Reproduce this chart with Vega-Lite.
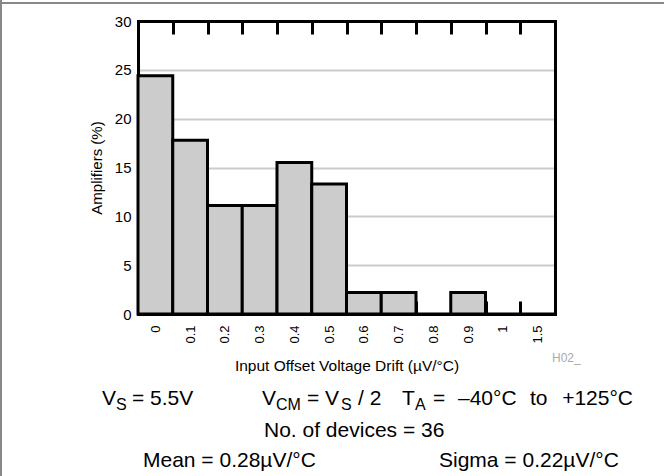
{
  "$schema": "https://vega.github.io/schema/vega-lite/v6.json",
  "width": 417,
  "height": 293,
  "autosize": {"type": "none"},
  "padding": {"left": 138, "top": 21, "right": 109, "bottom": 162},
  "background": "white",
  "config": {
    "font": "Liberation Sans",
    "view": {"stroke": null},
    "axis": {"labelFont": "Liberation Sans", "titleFont": "Liberation Sans", "labelColor": "black", "titleColor": "black", "titleFontWeight": "normal", "domainColor": "black", "domainWidth": 3, "domainCap": "square"},
    "text": {"font": "Liberation Sans", "color": "black"}
  },
  "resolve": {"axis": {"y": "independent"}},
  "data": {
    "values": [
      {"drift": "0", "pct": 24.4},
      {"drift": "0.1", "pct": 17.8},
      {"drift": "0.2", "pct": 11.1},
      {"drift": "0.3", "pct": 11.1},
      {"drift": "0.4", "pct": 15.5},
      {"drift": "0.5", "pct": 13.3},
      {"drift": "0.6", "pct": 2.2},
      {"drift": "0.7", "pct": 2.2},
      {"drift": "0.8", "pct": 0},
      {"drift": "0.9", "pct": 2.2},
      {"drift": "1", "pct": 0},
      {"drift": "1.5", "pct": 0}
    ]
  },
  "layer": [
    {
      "mark": {"type": "bar", "fill": "#cccccc", "stroke": "black", "strokeWidth": 3},
      "encoding": {
        "x": {
          "field": "drift", "type": "nominal", "sort": null,
          "scale": {"paddingInner": 0, "paddingOuter": 0},
          "axis": {"orient": "bottom", "title": "Input Offset Voltage Drift (µV/°C)", "labelAngle": -90, "labelFontSize": 13, "tickBand": "extent", "tickSize": -13, "tickWidth": 3, "tickColor": "black", "domain": true, "labelPadding": 24, "titleFontSize": 15.5, "titlePadding": 15}
        },
        "y": {
          "field": "pct", "type": "quantitative",
          "scale": {"domain": [0, 30]},
          "axis": {"orient": "left", "values": [0, 5, 10, 15, 20, 25, 30], "title": "Amplifiers (%)", "grid": true, "gridColor": "#cccccc", "gridWidth": 2, "ticks": false, "domain": true, "labelFontSize": 15, "labelPadding": 7, "titleFontSize": 15, "titlePadding": 10}
        }
      }
    },
    {
      "mark": {"type": "bar", "opacity": 0},
      "encoding": {
        "x": {
          "field": "drift", "type": "nominal", "sort": null,
          "axis": {"orient": "top", "labels": false, "title": null, "tickBand": "extent", "tickSize": -13, "tickWidth": 3, "tickColor": "black", "domain": true}
        },
        "y": {
          "field": "pct", "type": "quantitative",
          "axis": {"orient": "right", "labels": false, "ticks": false, "title": null, "grid": false, "domain": true}
        }
      }
    },
    {
      "data": {"values": [{}]},
      "mark": {"type": "rule", "stroke": "#888888", "strokeWidth": 2},
      "encoding": {"x": {"value": -138}, "x2": {"value": 526}, "y": {"value": -18}}
    },
    {
      "data": {"values": [{}]},
      "mark": {"type": "rule", "stroke": "#888888", "strokeWidth": 2},
      "encoding": {"x": {"value": -137}, "y": {"value": -21}, "y2": {"value": 455}}
    },
    {
      "data": {"values": [{}]},
      "mark": {"type": "text", "align": "left", "baseline": "alphabetic", "fontSize": 21},
      "encoding": {"text": {"datum": "V"}, "x": {"value": -36}, "y": {"value": 384}}
    },
    {
      "data": {"values": [{}]},
      "mark": {"type": "text", "align": "left", "baseline": "alphabetic", "fontSize": 16},
      "encoding": {"text": {"datum": "S"}, "x": {"value": -22}, "y": {"value": 389}}
    },
    {
      "data": {"values": [{}]},
      "mark": {"type": "text", "align": "left", "baseline": "alphabetic", "fontSize": 21},
      "encoding": {"text": {"datum": "= 5.5V"}, "x": {"value": -6}, "y": {"value": 384}}
    },
    {
      "data": {"values": [{}]},
      "mark": {"type": "text", "align": "left", "baseline": "alphabetic", "fontSize": 21},
      "encoding": {"text": {"datum": "V"}, "x": {"value": 124}, "y": {"value": 384}}
    },
    {
      "data": {"values": [{}]},
      "mark": {"type": "text", "align": "left", "baseline": "alphabetic", "fontSize": 16},
      "encoding": {"text": {"datum": "CM"}, "x": {"value": 138}, "y": {"value": 389}}
    },
    {
      "data": {"values": [{}]},
      "mark": {"type": "text", "align": "left", "baseline": "alphabetic", "fontSize": 21},
      "encoding": {"text": {"datum": "= V"}, "x": {"value": 169}, "y": {"value": 384}}
    },
    {
      "data": {"values": [{}]},
      "mark": {"type": "text", "align": "left", "baseline": "alphabetic", "fontSize": 16},
      "encoding": {"text": {"datum": "S"}, "x": {"value": 203}, "y": {"value": 389}}
    },
    {
      "data": {"values": [{}]},
      "mark": {"type": "text", "align": "left", "baseline": "alphabetic", "fontSize": 21},
      "encoding": {"text": {"datum": "/ 2"}, "x": {"value": 220}, "y": {"value": 384}}
    },
    {
      "data": {"values": [{}]},
      "mark": {"type": "text", "align": "left", "baseline": "alphabetic", "fontSize": 21},
      "encoding": {"text": {"datum": "T"}, "x": {"value": 264}, "y": {"value": 384}}
    },
    {
      "data": {"values": [{}]},
      "mark": {"type": "text", "align": "left", "baseline": "alphabetic", "fontSize": 16},
      "encoding": {"text": {"datum": "A"}, "x": {"value": 277}, "y": {"value": 389}}
    },
    {
      "data": {"values": [{}]},
      "mark": {"type": "text", "align": "left", "baseline": "alphabetic", "fontSize": 21},
      "encoding": {"text": {"datum": "="}, "x": {"value": 295}, "y": {"value": 384}}
    },
    {
      "data": {"values": [{}]},
      "mark": {"type": "text", "align": "left", "baseline": "alphabetic", "fontSize": 21},
      "encoding": {"text": {"datum": "–40°C"}, "x": {"value": 320}, "y": {"value": 384}}
    },
    {
      "data": {"values": [{}]},
      "mark": {"type": "text", "align": "left", "baseline": "alphabetic", "fontSize": 21},
      "encoding": {"text": {"datum": "to"}, "x": {"value": 392}, "y": {"value": 384}}
    },
    {
      "data": {"values": [{}]},
      "mark": {"type": "text", "align": "right", "baseline": "alphabetic", "fontSize": 21},
      "encoding": {"text": {"datum": "+125°C"}, "x": {"value": 495}, "y": {"value": 384}}
    },
    {
      "data": {"values": [{}]},
      "mark": {"type": "text", "align": "left", "baseline": "alphabetic", "fontSize": 21},
      "encoding": {"text": {"datum": "No. of devices = 36"}, "x": {"value": 126}, "y": {"value": 416}}
    },
    {
      "data": {"values": [{}]},
      "mark": {"type": "text", "align": "left", "baseline": "alphabetic", "fontSize": 21},
      "encoding": {"text": {"datum": "Mean = 0.28µV/°C"}, "x": {"value": 5}, "y": {"value": 446}}
    },
    {
      "data": {"values": [{}]},
      "mark": {"type": "text", "align": "left", "baseline": "alphabetic", "fontSize": 21},
      "encoding": {"text": {"datum": "Sigma = 0.22µV/°C"}, "x": {"value": 301}, "y": {"value": 446}}
    },
    {
      "data": {"values": [{}]},
      "mark": {"type": "text", "align": "left", "baseline": "alphabetic", "fontSize": 12, "color": "#aaaaaa"},
      "encoding": {"text": {"datum": "H02_"}, "x": {"value": 414}, "y": {"value": 341}}
    }
  ]
}
